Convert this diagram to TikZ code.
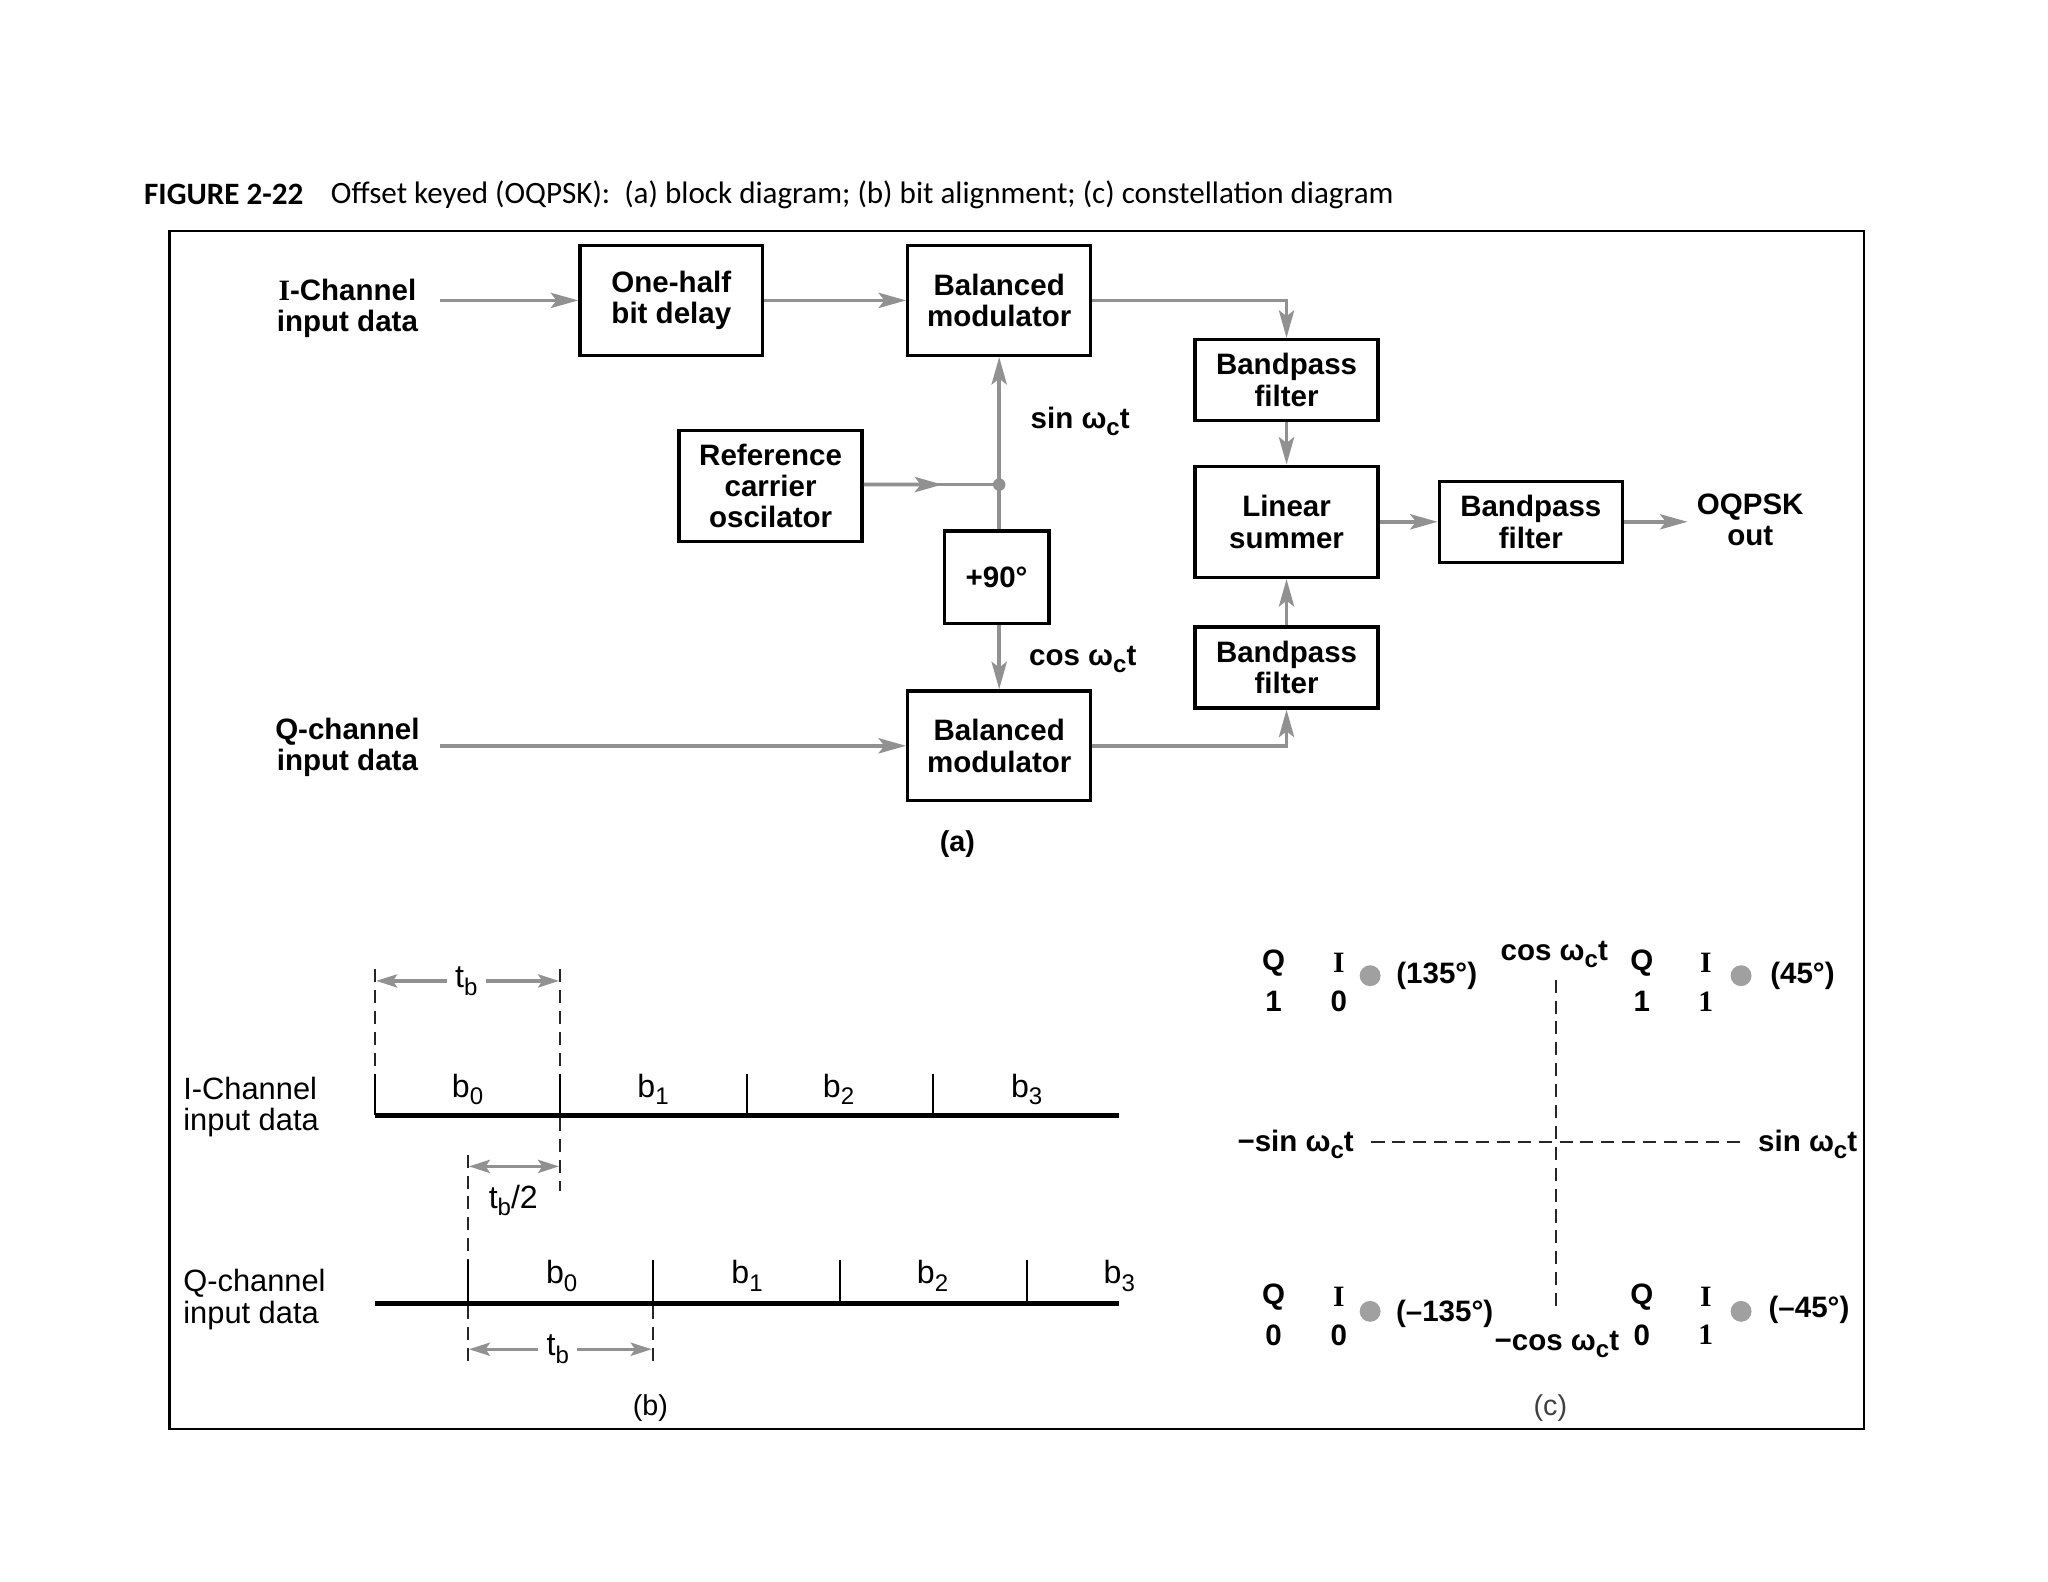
\documentclass[tikz,border=0pt]{standalone}
\usepackage{fontspec}
\setmainfont{Liberation Sans}
\newfontfamily\titlefont{Carlito}
\newfontfamily\serf{Liberation Serif}
\usetikzlibrary{arrows.meta,calc}
\definecolor{argray}{RGB}{145,145,145}
\definecolor{dotgray}{RGB}{160,160,160}
\newcommand\lowsub[1]{\raisebox{-0.45ex}{\fontsize{9.2}{9.5}\selectfont #1}}
\begin{document}
\begin{tikzpicture}[x=0.5pt,y=-0.5pt,
  blk/.style={draw, line width=1.3pt, align=center, inner sep=0pt, font=\bfseries\fontsize{11.3}{12}\selectfont},
  lbl/.style={align=center, inner sep=1pt, font=\bfseries\fontsize{11.3}{12}\selectfont},
  rlbl/.style={align=left, inner sep=0pt, font=\fontsize{11.8}{12}\selectfont},
  blbl/.style={inner sep=0pt, font=\fontsize{12.3}{12.5}\selectfont},
  garrow/.style={draw=argray, line width=1.45pt, -{Stealth[length=10.5pt,width=5.8pt,inset=2.2pt]}},
  sarrow/.style={draw=argray, line width=1.3pt, -{Stealth[length=8pt,width=5pt,inset=1.6pt]}},
  garrowb/.style={draw=argray, line width=1.3pt, {Stealth[length=8pt,width=5pt,inset=1.6pt]}-{Stealth[length=8pt,width=5pt,inset=1.6pt]}},
  gline/.style={draw=argray, line width=1.45pt},
  dsh/.style={draw=black!85, line width=0.75pt, dash pattern=on 5pt off 3pt},
  tick/.style={draw=black, line width=0.8pt},
  base/.style={draw=black, line width=1.6pt}
]
\useasboundingbox (0,0) rectangle (1568,1211);
\fill[white] (0,0) rectangle (1568,1211);

% title
\node[anchor=west, inner sep=0pt, font=\titlefont\bfseries\fontsize{11.9}{13}\selectfont] (fig) at (110,149) {FIGURE 2-22};
\node[anchor=west, inner sep=0pt, font=\titlefont\fontsize{11.9}{13}\selectfont] (cap) at (253,149) {Offset keyed (OQPSK):\ \ (a) block diagram; (b) bit alignment; (c) constellation diagram};

% frame
\draw[line width=1pt] (130,177) rectangle (1427,1094);

% ---------- (a) block diagram ----------
\node[lbl] (iin) at (266,236) {{\serf I}-Channel\\input data};
\node[lbl] (qin) at (266,572) {Q-channel\\input data};
\node[blk, minimum width=70pt, minimum height=42pt] (delay) at (514,230) {One-half\\bit delay};
\node[blk, minimum width=70pt, minimum height=42pt] (modi) at (765,230) {Balanced\\modulator};
\node[blk, minimum width=70pt, minimum height=31pt] (bpf1) at (985,291) {Bandpass\\filter};
\node[blk, minimum width=70pt, minimum height=42.5pt] (sum) at (985,399.5) {Linear\\summer};
\node[blk, minimum width=70pt, minimum height=31pt] (bpf3) at (1172,399.5) {Bandpass\\filter};
\node[blk, minimum width=70pt, minimum height=31pt] (bpf2) at (985,511) {Bandpass\\filter};
\node[blk, minimum width=70pt, minimum height=42pt] (modq) at (765,571) {Balanced\\modulator};
\node[blk, minimum width=70pt, minimum height=42.5pt] (ref) at (590,372) {Reference\\carrier\\oscilator};
\node[blk, minimum width=40pt, minimum height=35.5pt] (ph) at (763,442) {+90°};
\node[lbl] (out) at (1340,398) {OQPSK\\out};
\node[lbl] (sinl) at (827,323) {sin ω\lowsub{c}t};
\node[lbl] (cosl) at (829,505) {cos ω\lowsub{c}t};
\node[lbl, font=\bfseries\fontsize{11}{12}\selectfont] (la) at (733,646) {(a)};

\coordinate (is) at (337,230);
\coordinate (qs) at (337,571);
\coordinate (os) at (1292,399.5);
\coordinate (jn) at (765,371);

\draw[garrow] (is) -- (delay.west);
\draw[garrow] (delay.east) -- (modi.west);
\draw[garrow] (modi.east) -| (bpf1.north);
\draw[garrow] (bpf1.south) -- (sum.north);
\draw[garrow] (sum.east) -- (bpf3.west);
\draw[garrow] (bpf3.east) -- (os);
\draw[garrow] (bpf2.north) -- (sum.south);
\draw[garrow] (modq.east) -| (bpf2.south);
\draw[garrow] (qs) -- (modq.west);
\draw[gline] (ref.east |- jn) -- (jn);
\draw[garrow] (ref.east |- jn) -- ($(ref.east |- jn)!0.58!(jn)$);
\draw[garrow] (jn) -- (modi.south);
\draw[gline] (jn) -- (jn |- ph.north);
\draw[garrow] (jn |- ph.south) -- (modq.north);
\fill[argray] (jn) circle (2.4pt);

% ---------- (b) bit alignment ----------
\node[rlbl, anchor=west] (bi) at (140,847.5) {I-Channel\\input data};
\node[rlbl, anchor=west] (bq) at (140,995) {Q-channel\\input data};

\draw[base] (287,854) -- (857,854);
\foreach \x in {287,429,572,714} \draw[tick] (\x,822) -- (\x,854);
\node[blbl] (ib0) at (358,834) {b\lowsub{0}};
\node[blbl] (ib1) at (500,834) {b\lowsub{1}};
\node[blbl] (ib2) at (642,834) {b\lowsub{2}};
\node[blbl] (ib3) at (786,834) {b\lowsub{3}};

\draw[base] (287,998) -- (857,998);
\foreach \x in {358,500,643,786} \draw[tick] (\x,965) -- (\x,998);
\node[blbl] (qb0) at (430,977) {b\lowsub{0}};
\node[blbl] (qb1) at (572,977) {b\lowsub{1}};
\node[blbl] (qb2) at (714,977) {b\lowsub{2}};
\node[blbl] (qb3) at (857,977) {b\lowsub{3}};

\draw[dsh] (287,742) -- (287,822);
\draw[dsh] (429,742) -- (429,822);
\draw[dsh] (429,856) -- (429,912);
\draw[dsh] (358,884) -- (358,965);
\draw[dsh] (358,1000) -- (358,1045);
\draw[dsh] (500,1000) -- (500,1045);

\node[blbl, inner sep=3pt] (tb1) at (357,751) {t\lowsub{b}};
\coordinate (t1l) at (288,751);
\coordinate (t1r) at (428,751);
\draw[sarrow] (tb1.west) -- (t1l);
\draw[sarrow] (tb1.east) -- (t1r);

\coordinate (h1) at (359,893);
\coordinate (h2) at (428,893);
\draw[garrowb] (h1) -- (h2);
\node[blbl] (tbh) at (393,919) {t\lowsub{b}/2};

\node[blbl, inner sep=3pt] (tb2) at (427,1033) {t\lowsub{b}};
\coordinate (t2l) at (359,1033);
\coordinate (t2r) at (499,1033);
\draw[sarrow] (tb2.west) -- (t2l);
\draw[sarrow] (tb2.east) -- (t2r);

\node[blbl, font=\fontsize{11}{12}\selectfont] (lb) at (498,1078) {(b)};

% ---------- (c) constellation ----------
\coordinate (vt) at (1191,750);
\coordinate (vb) at (1191,1003);
\coordinate (hl) at (1050,874);
\coordinate (hr) at (1333,874);
\draw[dsh] (vt) -- (vb);
\draw[dsh] (hl) -- (hr);

\node[lbl] (cosp) at (1190,731) {cos ω\lowsub{c}t};
\node[lbl] (cosn) at (1192,1029) {−cos ω\lowsub{c}t};
\node[lbl] (sinn) at (992,876) {−sin ω\lowsub{c}t};
\node[lbl] (sinp) at (1384,876) {sin ω\lowsub{c}t};

% top-left
\node[lbl] (q1) at (975,737) {Q};
\node[lbl] (i1) at (1025,737) {\serf I};
\node[lbl] (q1v) at (975,767) {1};
\node[lbl] (i1v) at (1025,767) {0};
\fill[dotgray] (1049,747) circle (4pt);
\node[lbl] (a1) at (1100,747) {(135°)};
% top-right
\node[lbl] (q2) at (1257,737) {Q};
\node[lbl] (i2) at (1306,737) {\serf I};
\node[lbl] (q2v) at (1257,767) {1};
\node[lbl] (i2v) at (1306,767) {\serf 1};
\fill[dotgray] (1333,747) circle (4pt);
\node[lbl] (a2) at (1380,747) {(45°)};
% bottom-left
\node[lbl] (q3) at (975,993) {Q};
\node[lbl] (i3) at (1025,993) {\serf I};
\node[lbl] (q3v) at (975,1022) {0};
\node[lbl] (i3v) at (1025,1022) {0};
\fill[dotgray] (1049,1004) circle (4pt);
\node[lbl] (a3) at (1106,1006) {(–135°)};
% bottom-right
\node[lbl] (q4) at (1257,993) {Q};
\node[lbl] (i4) at (1306,993) {\serf I};
\node[lbl] (q4v) at (1257,1022) {0};
\node[lbl] (i4v) at (1306,1022) {\serf 1};
\fill[dotgray] (1333,1004) circle (4pt);
\node[lbl] (a4) at (1385,1003) {(–45°)};

\node[blbl, font=\fontsize{11}{12}\selectfont, text=black!75] (lc) at (1187,1078) {(c)};
\end{tikzpicture}
\end{document}
